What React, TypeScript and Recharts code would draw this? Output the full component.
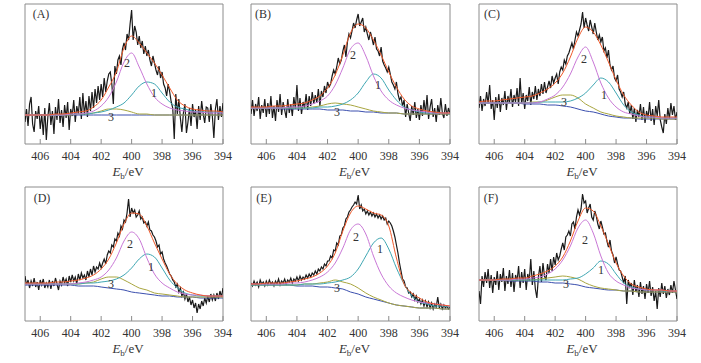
import React from 'react';
import { LineChart, Line, XAxis, YAxis, ReferenceArea } from 'recharts';

// binding energy grid of the fitted curves (eV)
const fitGrid = [407, 406.5, 406, 405.5, 405, 404.5, 404, 403.5, 403, 402.5, 402, 401.5, 401, 400.5, 400, 399.5, 399, 398.5, 398, 397.5, 397, 396.5, 396, 395.5, 395, 394.5, 394];
// raw scans were taken every 0.1 eV from 407 down to 394
const scanGrid = Array.from({ length: 131 }, (_, i) => Math.round((407 - i * 0.1) * 10) / 10);
const energyTicks = [406, 404, 402, 400, 398, 396, 394];

// (A)
const aScan = [
  22, 35, 18, 40, 47, 20, 12, 33, 25, 38,
  15, 30, 9, 36, 4, 27, 41, 19, 33, 10,
  37, 24, 45, 21, 34, 17, 39, 26, 42, 14,
  35, 28, 44, 22, 38, 30, 47, 25, 51, 29,
  43, 27, 48, 33, 52, 36, 55, 41, 58, 44,
  60, 47, 66, 52, 63, 70, 72, 60, 40, 78,
  70, 84, 88, 79, 95, 101, 94, 110, 104, 120,
  134, 104, 118, 112, 99, 108, 96, 103, 90, 98,
  88, 94, 84, 78, 88, 81, 74, 69, 78, 66,
  72, 60, 56, 48, 60, 52, 42, 36, 5, 50,
  30, 45, 26, 12, 31, 40, 11, 22, 36, 18,
  40, 27, 34, 15, 38, 24, 43, 30, 21, 37,
  36, 22, 40, 28, 6, 35, 45, 24, 38, 27, 41,
];
const aEnvelope = [29, 29, 29, 29, 30, 30, 31, 32, 33, 37, 44, 57, 72, 96, 108, 101, 91, 81, 69, 56, 44, 38, 35, 34, 33, 33, 32];
const aPeak1 = [29, 29, 29, 29, 29, 29, 30, 30, 30, 31, 32, 34, 37, 41, 49, 58, 62, 60, 51, 42, 37, 35, 33, 32, 32, 32, 31];
const aPeak2 = [29, 29, 29, 29, 29, 29, 30, 30, 31, 33, 38, 47, 62, 82, 91, 77, 60, 47, 40, 36, 34, 33, 32, 32, 31, 31, 31];
const aPeak3 = [29, 29, 29, 29, 29, 29, 29, 30, 30, 31, 33, 35, 35, 34, 32, 30, 30, 29, 29, 29, 29, 29, 29, 29, 29, 29, 29];
const aBackground = [29, 29, 29, 29, 29, 29, 29, 29, 29, 29, 29, 29, 29, 29, 29, 29, 29, 29, 29, 29, 29, 29, 29, 29, 29, 29, 29];

// (B)
const bScan = [
  30, 44, 28, 40, 33, 47, 25, 39, 31, 45,
  27, 41, 30, 48, 26, 38, 23, 44, 32, 50,
  29, 42, 34, 26, 45, 31, 40, 28, 47, 35,
  59, 33, 46, 30, 42, 36, 50, 34, 48, 38,
  52, 40, 49, 41, 55, 38, 53, 47, 58, 51,
  62, 57, 60, 68, 74, 70, 77, 86, 80, 84,
  93, 99, 87, 102, 110, 106, 113, 121, 116, 124,
  130, 118, 122, 126, 112, 117, 110, 104, 112, 106,
  99, 107, 95, 93, 88, 97, 83, 79, 76, 72,
  77, 70, 62, 59, 55, 62, 50, 44, 47, 38,
  44, 27, 40, 31, 23, 38, 29, 42, 26, 35,
  24, 39, 28, 44, 30, 49, 25, 37, 45, 27,
  36, 22, 39, 29, 46, 31, 26, 40, 28, 36, 30,
];
const bEnvelope = [37, 37, 37, 38, 38, 39, 40, 41, 44, 48, 56, 69, 89, 111, 120, 116, 104, 89, 72, 57, 45, 38, 35, 33, 32, 31, 31];
const bPeak1 = [36, 36, 36, 36, 36, 36, 36, 36, 36, 37, 37, 38, 40, 44, 51, 62, 70, 66, 54, 44, 37, 34, 32, 31, 31, 31, 30];
const bPeak2 = [36, 36, 36, 36, 36, 37, 37, 38, 40, 43, 48, 59, 76, 95, 101, 88, 68, 53, 44, 39, 36, 34, 33, 32, 31, 31, 31];
const bPeak3 = [36, 36, 36, 36, 36, 36, 36, 36, 37, 38, 40, 41, 40, 39, 37, 35, 33, 32, 31, 31, 30, 30, 30, 30, 30, 30, 30];
const bBackground = [36, 36, 36, 36, 35, 35, 35, 35, 35, 35, 34, 34, 34, 33, 33, 32, 32, 31, 31, 31, 30, 30, 30, 30, 30, 30, 30];

// (C)
const cScan = [
  36, 48, 33, 45, 38, 52, 40, 59, 35, 44,
  24, 47, 36, 50, 32, 46, 39, 53, 34, 48,
  41, 55, 37, 49, 42, 56, 38, 66, 40, 51,
  35, 49, 43, 57, 39, 52, 45, 58, 44, 55,
  48, 60, 50, 62, 51, 57, 63, 56, 68, 61,
  66, 70, 60, 72, 77, 74, 84, 80, 88, 91,
  96, 101, 95, 104, 112, 108, 114, 120, 132, 116,
  126, 119, 113, 124, 117, 110, 121, 112, 104, 109,
  102, 107, 93, 96, 86, 94, 79, 74, 78, 66,
  63, 69, 55, 52, 47, 52, 40, 36, 42, 30,
  39, 25, 36, 22, 34, 27, 40, 24, 37, 21,
  33, 26, 42, 23, 35, 19, 38, 28, 44, 24,
  17, 11, 30, 20, 36, 25, 41, 29, 38, 24, 32,
];
const cEnvelope = [42, 43, 43, 44, 45, 46, 47, 48, 51, 55, 61, 71, 87, 106, 117, 112, 99, 82, 64, 49, 39, 32, 29, 28, 27, 27, 27];
const cPeak1 = [41, 41, 41, 41, 41, 41, 41, 41, 42, 42, 42, 42, 43, 46, 51, 59, 66, 62, 51, 39, 32, 29, 27, 27, 26, 26, 26];
const cPeak2 = [41, 41, 41, 41, 41, 41, 41, 41, 42, 45, 49, 57, 70, 87, 97, 82, 61, 46, 37, 32, 30, 28, 27, 27, 26, 26, 26];
const cPeak3 = [41, 41, 41, 41, 41, 41, 41, 42, 42, 44, 47, 49, 49, 46, 40, 36, 32, 30, 28, 27, 26, 26, 26, 26, 25, 25, 25];
const cBackground = [41, 41, 41, 41, 41, 41, 40, 40, 40, 39, 39, 38, 37, 35, 33, 32, 30, 28, 27, 26, 26, 25, 25, 25, 25, 25, 25];

// (D)
const dScan = [
  45, 36, 41, 33, 40, 35, 43, 34, 39, 31,
  41, 36, 42, 33, 38, 34, 41, 32, 40, 35,
  43, 37, 31, 40, 36, 44, 38, 42, 35, 45,
  39, 46, 40, 44, 37, 47, 41, 48, 43, 46,
  41, 50, 44, 52, 46, 55, 49, 54, 52, 58,
  53, 58, 62, 57, 66, 70, 68, 76, 74, 82,
  80, 88, 85, 95, 92, 101, 99, 108, 122, 104,
  113, 108, 111, 104, 106, 110, 102, 104, 98, 99,
  95, 99, 91, 90, 86, 84, 80, 74, 76, 67,
  69, 62, 58, 55, 51, 47, 45, 41, 39, 34,
  37, 29, 33, 25, 29, 22, 27, 19, 24, 16,
  21, 13, 18, 8, 17, 12, 20, 15, 23, 18,
  25, 19, 27, 21, 26, 20, 28, 22, 30, 24, 33,
];
const dEnvelope = [38, 38, 38, 38, 39, 39, 40, 41, 43, 46, 52, 62, 78, 97, 108, 107, 95, 78, 62, 47, 37, 31, 28, 26, 25, 25, 25];
const dPeak1 = [37, 37, 37, 37, 37, 37, 37, 37, 38, 38, 39, 40, 42, 46, 53, 62, 67, 64, 53, 41, 33, 28, 26, 25, 25, 25, 25];
const dPeak2 = [37, 37, 37, 37, 37, 37, 37, 38, 39, 41, 44, 51, 63, 80, 89, 82, 63, 47, 38, 33, 29, 27, 26, 26, 25, 25, 25];
const dPeak3 = [37, 37, 37, 37, 37, 37, 37, 37, 38, 39, 42, 44, 44, 41, 37, 33, 31, 28, 27, 26, 25, 24, 24, 24, 24, 24, 24];
const dBackground = [36, 36, 36, 36, 36, 36, 36, 35, 35, 35, 34, 33, 32, 31, 29, 28, 27, 26, 25, 25, 24, 24, 24, 23, 23, 23, 23];

// (E)
const eScan = [
  38, 35, 40, 36, 39, 34, 41, 37, 39, 35,
  40, 36, 41, 37, 39, 35, 40, 37, 42, 36,
  40, 38, 42, 37, 41, 39, 43, 38, 42, 40,
  44, 40, 45, 41, 44, 42, 46, 43, 47, 44,
  48, 46, 50, 47, 52, 50, 54, 52, 57, 55,
  60, 60, 65, 63, 71, 70, 78, 76, 85, 86,
  93, 95, 102, 104, 109, 111, 114, 116, 119, 117,
  126, 112, 116, 110, 112, 107, 110, 106, 109, 105,
  108, 104, 107, 103, 106, 102, 105, 101, 103, 97,
  100, 98, 95, 90, 84, 76, 68, 58, 50, 42,
  40, 34, 33, 28, 29, 24, 27, 21, 25, 19,
  22, 17, 21, 15, 20, 14, 19, 13, 18, 12,
  17, 14, 24, 13, 17, 12, 16, 13, 15, 12, 14,
];
const eEnvelope = [37, 37, 38, 38, 38, 39, 40, 42, 44, 48, 55, 68, 90, 108, 115, 112, 108, 106, 95, 63, 37, 28, 23, 19, 17, 16, 15];
const ePeak1 = [36, 36, 36, 36, 36, 36, 36, 37, 37, 37, 38, 39, 41, 44, 52, 65, 78, 83, 72, 53, 37, 25, 19, 17, 15, 15, 14];
const ePeak2 = [37, 37, 37, 37, 37, 38, 38, 39, 41, 44, 49, 58, 73, 91, 97, 87, 65, 47, 35, 28, 24, 21, 19, 18, 17, 16, 15];
const ePeak3 = [36, 36, 36, 36, 36, 36, 36, 37, 37, 38, 39, 41, 39, 37, 33, 28, 24, 21, 18, 16, 15, 14, 13, 13, 13, 12, 12];
const eBackground = [36, 36, 36, 36, 36, 36, 35, 35, 35, 34, 34, 33, 32, 29, 27, 24, 22, 20, 18, 16, 15, 14, 13, 13, 13, 12, 12];

// (F)
const fScan = [
  30, 17, 45, 34, 49, 38, 52, 33, 46, 28,
  44, 36, 50, 31, 47, 39, 53, 30, 45, 37,
  51, 34, 48, 29, 46, 40, 55, 33, 49, 38,
  52, 31, 47, 40, 62, 36, 50, 32, 23, 44,
  55, 39, 58, 45, 41, 57, 48, 62, 50, 64,
  56, 68, 61, 65, 72, 78, 71, 84, 86, 90,
  85, 97, 99, 92, 104, 111, 106, 112, 127, 118,
  120, 108, 113, 117, 104, 101, 110, 105, 97, 92,
  100, 94, 87, 88, 80, 74, 81, 70, 66, 58,
  64, 57, 51, 50, 44, 38, 45, 17, 41, 34,
  38, 26, 41, 29, 36, 24, 39, 27, 35, 22,
  37, 28, 40, 25, 34, 20, 30, 12, 33, 24,
  38, 27, 35, 23, 32, 26, 36, 28, 40, 31, 22,
];
const fEnvelope = [41, 41, 41, 42, 42, 43, 43, 45, 47, 50, 55, 64, 80, 100, 113, 110, 95, 77, 58, 45, 37, 34, 32, 31, 31, 30, 30];
const fPeak1 = [41, 41, 41, 41, 41, 41, 41, 41, 41, 41, 41, 41, 42, 43, 47, 53, 60, 57, 47, 38, 34, 32, 31, 31, 30, 30, 30];
const fPeak2 = [41, 41, 41, 41, 41, 42, 42, 43, 44, 47, 52, 61, 75, 93, 101, 88, 65, 48, 40, 36, 33, 32, 31, 31, 31, 30, 30];
const fPeak3 = [41, 41, 41, 41, 41, 41, 41, 41, 42, 43, 44, 45, 44, 42, 38, 35, 33, 32, 31, 30, 30, 29, 29, 29, 29, 29, 29];
const fBackground = [41, 41, 41, 41, 40, 40, 40, 40, 39, 39, 38, 38, 37, 36, 34, 33, 32, 31, 31, 30, 30, 29, 29, 29, 29, 29, 29];

const SERIF = '"Liberation Serif", "DejaVu Serif", serif';
const FRAME = '#8c8c8c';
const COLORS = {
  scan: '#1a1a1a',
  envelope: '#f0592a',
  peak1: '#3fa7b3',
  peak2: '#c977d6',
  peak3: '#a9a640',
  background: '#3b4fae',
};

const toPoints = (grid: number[], values: number[]) => grid.map((e, i) => ({ e, v: values[i] }));

interface Panel {
  tag: string;
  left: number;
  top: number;
  width: number;
  height: number;
  scan: number[];
  envelope: number[];
  peak1: number[];
  peak2: number[];
  peak3: number[];
  background: number[];
  tagAt: [number, number];
  marks: [number, number][]; // where "1", "2", "3" sit
}

const panels: Panel[] = [
  {
    tag: '(A)', left: 25, top: 4, width: 198, height: 140,
    scan: aScan, envelope: aEnvelope, peak1: aPeak1, peak2: aPeak2, peak3: aPeak3, background: aBackground,
    tagAt: [41, 14], marks: [[154, 93], [127, 63], [111, 117]],
  },
  {
    tag: '(B)', left: 251, top: 4, width: 199, height: 140,
    scan: bScan, envelope: bEnvelope, peak1: bPeak1, peak2: bPeak2, peak3: bPeak3, background: bBackground,
    tagAt: [263, 14], marks: [[378, 85], [353, 55], [337, 112]],
  },
  {
    tag: '(C)', left: 479, top: 4, width: 198, height: 140,
    scan: cScan, envelope: cEnvelope, peak1: cPeak1, peak2: cPeak2, peak3: cPeak3, background: cBackground,
    tagAt: [492, 14], marks: [[604, 95], [584, 59], [564, 102]],
  },
  {
    tag: '(D)', left: 25, top: 187, width: 198, height: 134,
    scan: dScan, envelope: dEnvelope, peak1: dPeak1, peak2: dPeak2, peak3: dPeak3, background: dBackground,
    tagAt: [42, 198], marks: [[151, 267], [130, 244], [111, 284]],
  },
  {
    tag: '(E)', left: 251, top: 187, width: 199, height: 134,
    scan: eScan, envelope: eEnvelope, peak1: ePeak1, peak2: ePeak2, peak3: ePeak3, background: eBackground,
    tagAt: [264, 198], marks: [[380, 249], [356, 237], [337, 288]],
  },
  {
    tag: '(F)', left: 479, top: 187, width: 198, height: 134,
    scan: fScan, envelope: fEnvelope, peak1: fPeak1, peak2: fPeak2, peak3: fPeak3, background: fBackground,
    tagAt: [491, 198], marks: [[601, 270], [585, 240], [566, 284]],
  },
];

const EnergyTick = (props: any) => {
  const { x, y, payload } = props;
  return (
    <g>
      <line x1={x} x2={x} y1={y} y2={y - 5} stroke={FRAME} strokeWidth={1} />
      <text x={x} y={y + 16} textAnchor="middle" fontSize={12} fontFamily={SERIF} fill="#333">
        {payload.value}
      </text>
    </g>
  );
};

const AxisTitle = (props: any) => {
  const { viewBox } = props;
  const cx = viewBox.x + viewBox.width / 2 + 4;
  return (
    <text x={cx} y={viewBox.y + 32} textAnchor="middle" fontSize={13} fontFamily={SERIF} fill="#333">
      <tspan fontStyle="italic">E</tspan>
      <tspan fontSize={9} dy={3}>b</tspan>
      <tspan dy={-3}>/eV</tspan>
    </text>
  );
};

function SpectrumPanel({ p }: { p: Panel }) {
  const ml = 10;
  const mr = 10;
  const mt = 4;
  const axisH = 44;
  const curves: [number[], string][] = [
    [p.background, COLORS.background],
    [p.peak3, COLORS.peak3],
    [p.peak1, COLORS.peak1],
    [p.peak2, COLORS.peak2],
    [p.envelope, COLORS.envelope],
  ];
  return (
    <div style={{ position: 'absolute', left: p.left - ml, top: p.top - mt }}>
      <LineChart
        width={p.width + ml + mr}
        height={p.height + mt + axisH}
        margin={{ top: mt, right: mr, bottom: 0, left: ml }}
      >
        <XAxis
          type="number"
          dataKey="e"
          domain={[394, 407]}
          reversed
          allowDataOverflow
          ticks={energyTicks}
          interval={0}
          height={axisH}
          axisLine={false}
          tickLine={false}
          tickSize={0}
          tickMargin={0}
          tick={(t: any) => <EnergyTick {...t} />}
          label={{ content: AxisTitle }}
        />
        <YAxis type="number" dataKey="v" domain={[0, p.height]} hide allowDataOverflow />
        <ReferenceArea x1={407} x2={394} y1={0} y2={p.height} fill="none" stroke={FRAME} strokeWidth={1} ifOverflow="visible" />
        <Line
          data={toPoints(scanGrid, p.scan)}
          dataKey="v"
          type="linear"
          stroke={COLORS.scan}
          strokeWidth={1.2}
          dot={false}
          isAnimationActive={false}
        />
        {curves.map(([vals, color], i) => (
          <Line
            key={i}
            data={toPoints(fitGrid, vals)}
            dataKey="v"
            type="monotone"
            stroke={color}
            strokeWidth={1}
            dot={false}
            isAnimationActive={false}
          />
        ))}
      </LineChart>
    </div>
  );
}

const textAt = (x: number, y: number, size: number) => ({
  position: 'absolute' as const,
  left: x,
  top: y,
  transform: 'translate(-50%, -50%)',
  fontFamily: SERIF,
  fontSize: size,
  lineHeight: 1,
  color: '#333',
  whiteSpace: 'nowrap' as const,
});

export default function App() {
  return (
    <div style={{ position: 'absolute', left: 0, top: 0, width: 701, height: 363, background: '#fff', overflow: 'hidden' }}>
      {panels.map((p) => (
        <React.Fragment key={p.tag}>
          <SpectrumPanel p={p} />
          <div style={textAt(p.tagAt[0], p.tagAt[1], 12)}>{p.tag}</div>
          {p.marks.map(([x, y], i) => (
            <div key={i} style={textAt(x, y, 12)}>{i + 1}</div>
          ))}
        </React.Fragment>
      ))}
    </div>
  );
}
